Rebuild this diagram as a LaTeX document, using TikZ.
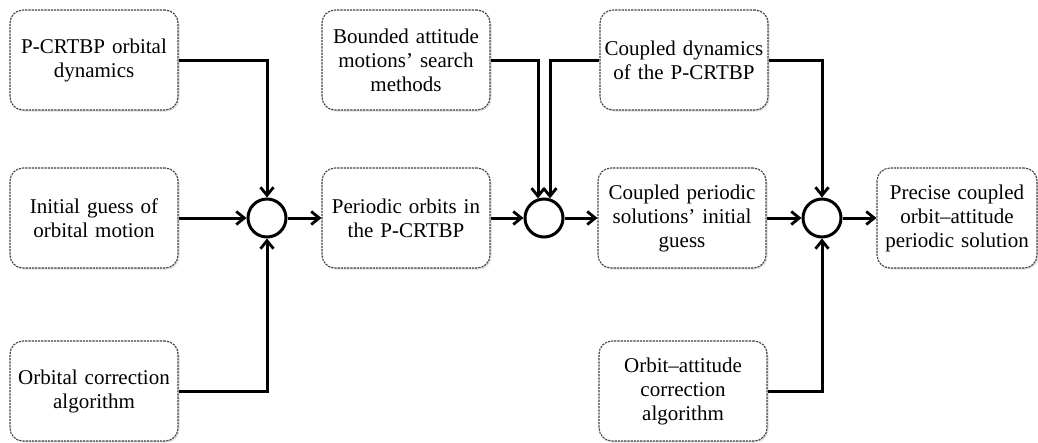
\documentclass[tikz,border=0pt]{standalone}
\usepackage{fontspec}
\setmainfont{Liberation Serif}
\usetikzlibrary{arrows.meta,shadows}
\tikzset{
  block/.style={draw=black!75, fill=white, line width=1.1pt, dash pattern=on 2.2pt off 1pt,
    rounded corners=13pt, minimum width=168pt, minimum height=100pt, text width=162pt,
    align=center, inner sep=0pt, font=\fontsize{21}{24}\selectfont,
    drop shadow={opacity=0.25, shadow xshift=1.5pt, shadow yshift=-1.5pt}},
  junction/.style={draw, circle, fill=white, line width=3pt, minimum size=38pt, inner sep=0pt},
  flow/.style={line width=3pt, -{Straight Barb[length=8pt,width=13pt,line width=2.8pt]}}
}
\begin{document}
\begin{tikzpicture}[x=1pt, y=-1pt]
      \useasboundingbox (0, 0) rectangle (1038, 442);
      % left column
      \node [block] (pcrtbp) at (94, 60) {P-CRTBP orbital\\dynamics};
      \node [block] (guess) at (94, 218) {Initial guess of\\orbital motion};
      \node [block] (corr) at (94, 391) {Orbital correction\\algorithm};
      \node [junction] (sum1) at (267, 218) {};
      % middle
      \node [block] (orbits) at (406, 218) {Periodic orbits in\\the P-CRTBP};
      \node [block] (search) at (406, 60) {Bounded attitude\\motions’ search\\methods};
      \node [junction] (sum2) at (544, 218) {};
      % right
      \node [block] (cdyn) at (684, 60) {Coupled dynamics\\of the P-CRTBP};
      \node [block] (cinit) at (682, 218) {Coupled periodic\\solutions’ initial\\guess};
      \node [block] (ocorr) at (683, 391) {Orbit–attitude\\correction\\algorithm};
      \node [junction] (sum3) at (822, 218) {};
      \node [block, minimum width=160pt, text width=158pt] (precise) at (957, 218) {Precise coupled\\orbit–attitude\\periodic solution};
      % connectors
      \draw [flow] (pcrtbp.east) -| (sum1.north);
      \draw [flow] (guess.east) -- (sum1.west);
      \draw [flow] (corr.east) -| (sum1.south);
      \draw [flow] (sum1.east) -- (orbits.west);
      \draw [flow] (orbits.east) -- (sum2.west);
      \draw [flow] (search.east) -| (sum2.107);
      \draw [flow] (cdyn.west) -| (sum2.73);
      \draw [flow] (sum2.east) -- (cinit.west);
      \draw [flow] (cinit.east) -- (sum3.west);
      \draw [flow] (cdyn.east) -| (sum3.north);
      \draw [flow] (ocorr.east) -| (sum3.south);
      \draw [flow] (sum3.east) -- (precise.west);
\end{tikzpicture}
\end{document}
